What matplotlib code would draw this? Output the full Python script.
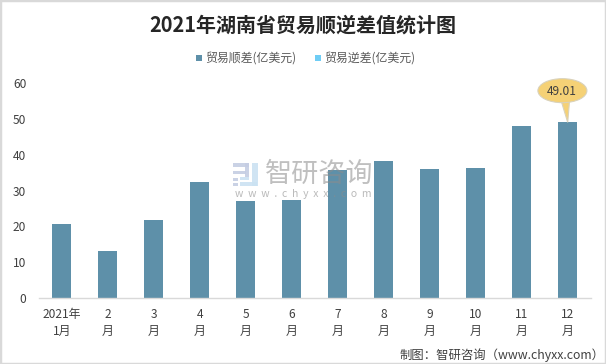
import matplotlib
matplotlib.use("Agg")
import matplotlib.pyplot as plt
from matplotlib.patches import Rectangle, Ellipse, Polygon
from matplotlib.transforms import IdentityTransform

plt.rcParams['font.family'] = ['Noto Sans CJK SC', 'DejaVu Sans']

months = ['2021年\n1月', '2\n月', '3\n月', '4\n月', '5\n月', '6\n月', '7\n月', '8\n月', '9\n月', '10\n月', '11\n月', '12\n月']
surplus = [20.7, 13.2, 21.8, 32.4, 27.2, 27.4, 35.8, 38.3, 36.0, 36.3, 48.1, 49.01]
yticks = [0, 10, 20, 30, 40, 50, 60]
series_names = ['贸易顺差(亿美元)', '贸易逆差(亿美元)']
title = '2021年湖南省贸易顺逆差值统计图'
footer = '制图：智研咨询（www.chyxx.com）'

W, H = 606, 364
fig = plt.figure(figsize=(W / 100, H / 100), dpi=100, facecolor='white')
def px(x, y):
    return x / W, 1 - y / H

# outer border
fig.add_artist(Rectangle((0, 0), 1, 1, transform=fig.transFigure, fill=False, ec='#D9D9D9', lw=2.5))

left, right, top, bottom = 38.8, 590.7, 83.0, 298.0
ax = fig.add_axes([left / W, 1 - bottom / H, (right - left) / W, (bottom - top) / H])
xs = list(range(len(months)))
ax.bar(xs, surplus, width=0.415, color='#5E90A9', zorder=2)
ax.set_xlim(-0.5, len(months) - 0.5)
ax.set_ylim(0, 60)
ax.set_yticks(yticks)
ax.set_xticks(xs)
ax.set_xticklabels(months, fontsize=8.6, color='#404040', linespacing=1.42)
ax.tick_params(axis='y', length=0, labelsize=8.6, labelcolor='#404040', pad=9)
ax.tick_params(axis='x', length=0, pad=7)
for s in ['top', 'right', 'left']:
    ax.spines[s].set_visible(False)
ax.spines['bottom'].set_color('#D9D9D9')
ax.spines['bottom'].set_linewidth(1)

# title, footer
x, y = px(303, 25)
fig.text(x, y, title, ha='center', va='center', fontsize=14.4, fontweight='bold', color='#262626')
x, y = px(604, 355)
fig.text(x, y, footer, ha='right', va='center', fontsize=8.9, color='#404040')

# legend
for name, color, mx in zip(series_names, ['#5E90A9', '#6FCDF5'], [196, 314.5]):
    x0, y0 = px(mx, 61)
    fig.add_artist(Rectangle((x0, y0), 6 / W, 6 / H, transform=fig.transFigure, fc=color, ec='none'))
    x1, y1 = px(mx + 9.5, 58)
    fig.text(x1, y1, name, ha='left', va='center', fontsize=8.6, color='#595959')

# callout anchored on last bar
lx, ly = xs[-1], surplus[-1]
call = '#F5D176'
edge = '#D9D2BC'
bx, by = ax.transData.transform((lx, ly))
ax.add_patch(Polygon([(bx, by), (bx - 7, by + 23), (bx + 2, by + 23)], closed=True, transform=IdentityTransform(),
                     fc=call, ec=edge, lw=0.8, zorder=5, clip_on=False))
ax.add_patch(Ellipse((bx - 5.3, by + 31.7), 49, 24, transform=IdentityTransform(),
                     fc=call, ec=edge, lw=0.8, zorder=6, clip_on=False))
ax.add_patch(Ellipse((bx - 5.3, by + 31.7), 47, 22, transform=IdentityTransform(),
                     fc=call, ec='none', zorder=6, clip_on=False))
ax.annotate(f'{ly:.2f}', (lx, ly), xytext=(-4.3, 22), textcoords='offset points', ha='center', va='center',
            fontsize=8.6, color='#404040', zorder=7, annotation_clip=False)

# watermark
x, y = px(319, 174.5)
fig.text(x, y, '智研咨询', ha='center', va='center', fontsize=19.5, color='#8C8C8C', alpha=0.55, zorder=10)
x, y = px(303, 194)
fig.text(x, y, 'w  w  w  .  c  h  y  x  x  .  c  o  m', ha='center', va='center', fontsize=7.5, color='#8C8C8C', alpha=0.6, zorder=10)
grey, blue = '#C5CDE3', '#CBE2F2'
for (a, b, c, d, col) in [(233, 163, 16, 4, grey), (245, 163, 4, 14, grey), (233, 171, 13, 3, grey),
                          (233, 178, 5, 3, grey), (233, 183, 5, 3, grey),
                          (252, 163, 5.5, 23, blue), (240, 182, 17, 4, blue), (240, 177, 9, 3, blue)]:
    x0, y0 = px(a, b + d)
    fig.add_artist(Rectangle((x0, y0), c / W, d / H, transform=fig.transFigure, fc=col, ec='none', alpha=0.9, zorder=10))

fig.savefig('out.png', dpi=100)
